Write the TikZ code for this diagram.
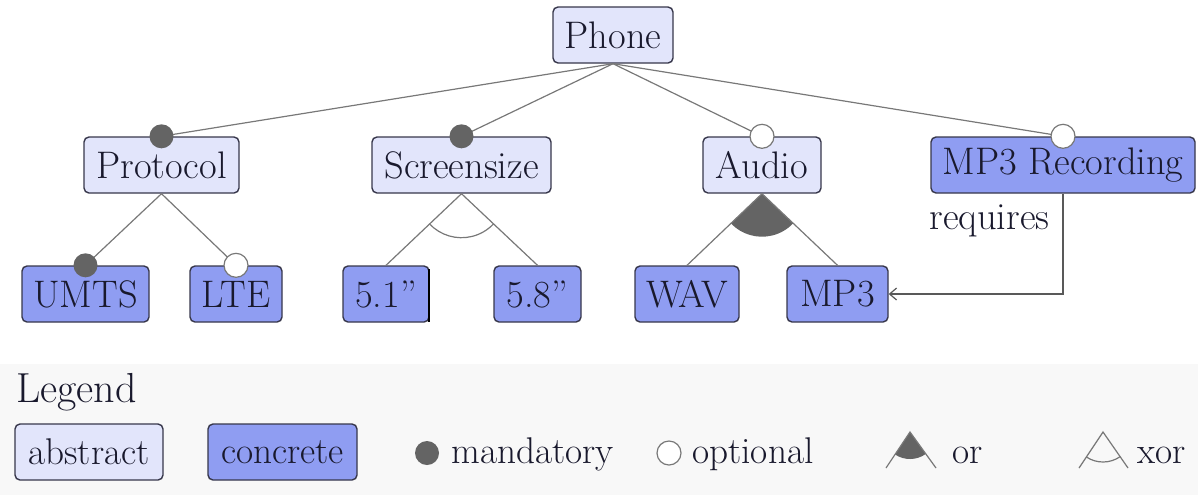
\documentclass[tikz,border=0pt]{standalone}
\usetikzlibrary{arrows.meta,calc}
\definecolor{absfill}{RGB}{226,229,251}
\definecolor{confill}{RGB}{143,157,242}
\definecolor{boxline}{RGB}{55,55,75}
\definecolor{linkc}{RGB}{120,120,120}
\definecolor{dotc}{RGB}{100,100,100}
\definecolor{legbg}{RGB}{248,248,248}
\definecolor{txt}{RGB}{25,25,45}
\begin{document}
\begin{tikzpicture}[x=0.5pt,y=-0.5pt,
  feat/.style={draw=boxline, rounded corners=2.5pt, minimum height=28pt, inner sep=0pt, line width=0.7pt, text=txt, font=\fontsize{19.2}{23}\selectfont},
  absf/.style={feat, fill=absfill},
  conf/.style={feat, fill=confill},
  link/.style={draw=linkc, line width=0.6pt},
  mand/.style={circle, fill=dotc, inner sep=0pt, minimum size=12pt},
  opt/.style={circle, draw=linkc, fill=white, inner sep=0pt, minimum size=12pt, line width=0.6pt},
  lbl/.style={text=txt, inner sep=0pt, font=\fontsize{19.2}{23}\selectfont},
  leg/.style={font=\fontsize{18.6}{22}\selectfont}
  ]
\useasboundingbox (0,0) rectangle (1198,495);
\fill[legbg] (0,364) rectangle (1198,495);

% features
\node[absf, minimum width=60pt] (phone) at (613,35) {Phone};
\node[absf, minimum width=77.5pt] (protocol) at (161.5,165) {Protocol};
\node[absf, minimum width=89.5pt] (screen) at (461.5,165) {Screensize};
\node[absf, minimum width=59pt] (audio) at (762,165) {Audio};
\node[conf, minimum width=132pt] (mp3rec) at (1063,165) {MP3 Recording};
\node[conf, minimum width=63.5pt] (umts) at (85.5,294) {UMTS};
\node[conf, minimum width=46pt] (lte) at (236,294) {LTE};
\node[conf, minimum width=43pt] (s51) at (386,294) {5.1''};
\node[conf, minimum width=43.5pt] (s58) at (537.5,294) {5.8''};
\node[conf, minimum width=52pt] (wav) at (687,294) {WAV};
\node[conf, minimum width=50.5pt] (mp3) at (837.5,294) {MP3};
\draw[line width=1.3pt, black] ([xshift=-0.4pt, yshift=-2pt]s51.north east) -- ([xshift=-0.4pt, yshift=0.5pt]s51.south east);

% or group (Audio)
\fill[dotc] let \p1=($(wav.north)-(audio.south)$), \p2=($(mp3.north)-(audio.south)$),
  \n1={atan2(\y1,\x1)}, \n2={atan2(\y2,\x2)} in
  (audio.south) -- ($(audio.south)+(\n1:21.5pt)$) arc[start angle=\n1, end angle=\n2, radius=21.5pt] -- cycle;
% xor group (Screensize)
\draw[link] let \p1=($(s51.north)-(screen.south)$), \p2=($(s58.north)-(screen.south)$),
  \n1={atan2(\y1,\x1)}, \n2={atan2(\y2,\x2)} in
  ($(screen.south)+(\n1:22pt)$) arc[start angle=\n1, end angle=\n2, radius=22pt];

% connectors
\foreach \c in {protocol,screen,audio,mp3rec} \draw[link] (phone.south) -- (\c.north);
\draw[link] (protocol.south) -- (umts.north);
\draw[link] (protocol.south) -- (lte.north);
\draw[link] (screen.south) -- (s51.north);
\draw[link] (screen.south) -- (s58.north);
\draw[link] (audio.south) -- (wav.north);
\draw[link] (audio.south) -- (mp3.north);

% mandatory / optional markers
\node[mand] (mprot) at (protocol.north) {};
\node[mand] (mscr) at (screen.north) {};
\node[opt] (oaud) at (audio.north) {};
\node[opt] (orec) at (mp3rec.north) {};
\node[mand] (mumts) at (umts.north) {};
\node[opt] (olte) at (lte.north) {};

% requires constraint
\draw[link, draw=black!65, -{Straight Barb[length=3.5pt,width=6pt]}] (mp3rec.south) |- (mp3.east);
\node[lbl, anchor=west] (req) at (929,221) {requires};

% legend
\node[lbl, anchor=west, font=\fontsize{21}{25}\selectfont] (legend) at (16,392) {Legend};
\node[absf, leg, minimum width=74pt] (labs) at (89,452) {abstract};
\node[conf, leg, minimum width=74.5pt] (lcon) at (282.5,452) {concrete};
\node[mand] (lmand) at (427,453) {};
\node[lbl, leg, anchor=base west] (tmand) at (451,463) {mandatory};
\node[opt] (lopt) at (669,453) {};
\node[lbl, leg, anchor=base west] (topt) at (692,463) {optional};

\coordinate (oa) at (910,432);
\coordinate (ol) at (886,468);
\coordinate (or) at (936,468);
\fill[dotc] let \p1=($(ol)-(oa)$), \p2=($(or)-(oa)$),
  \n1={atan2(\y1,\x1)}, \n2={atan2(\y2,\x2)} in
  (oa) -- ($(oa)+(\n1:13.5pt)$) arc[start angle=\n1, end angle=\n2, radius=13.5pt] -- cycle;
\draw[link] (ol) -- (oa) -- (or);
\node[lbl, leg, anchor=base west] (tor) at (952,463) {or};

\coordinate (xa) at (1103,432);
\coordinate (xl) at (1079,468);
\coordinate (xr) at (1128,468);
\draw[link] let \p1=($(xl)-(xa)$), \p2=($(xr)-(xa)$),
  \n1={atan2(\y1,\x1)}, \n2={atan2(\y2,\x2)} in
  ($(xa)+(\n1:15pt)$) arc[start angle=\n1, end angle=\n2, radius=15pt];
\draw[link] (xl) -- (xa) -- (xr);
\node[lbl, leg, anchor=base west] (txor) at (1137,463) {xor};
\end{tikzpicture}
\end{document}
